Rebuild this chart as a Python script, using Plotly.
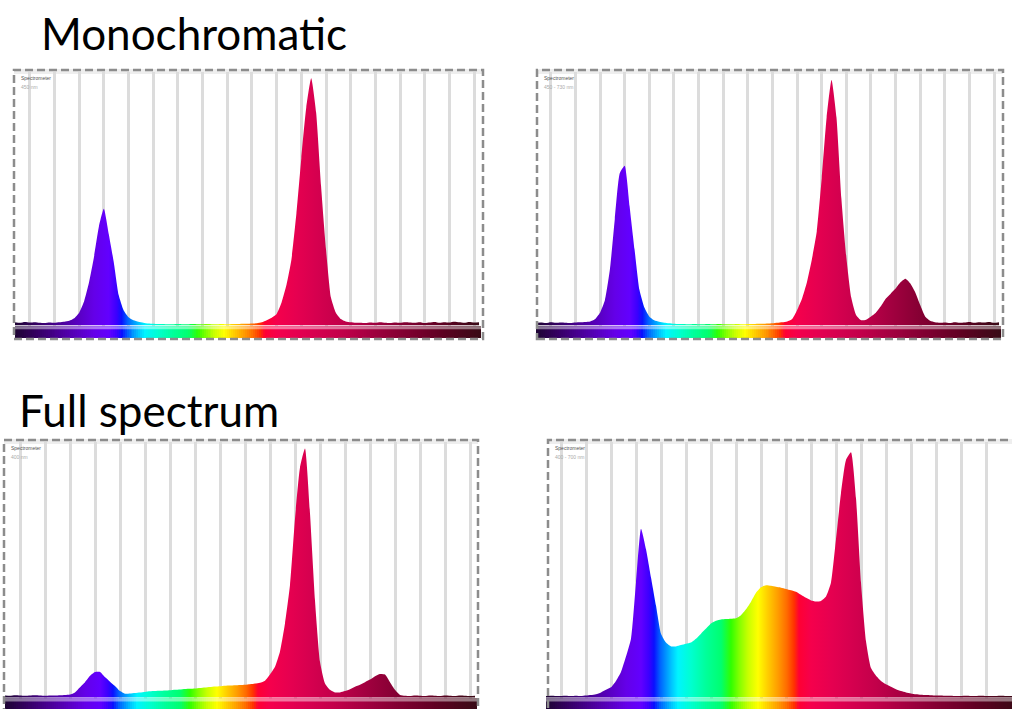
import plotly.graph_objects as go

# ---------------- data ----------------
wavelengths = list(range(360, 835, 5))  # nm

mono_a = [
    0.012, 0.010, 0.013, 0.011, 0.012, 0.010, 0.009, 0.011, 0.010, 0.012,
    0.014, 0.018, 0.028, 0.050, 0.095, 0.170, 0.270, 0.390, 0.460, 0.360,
    0.250, 0.120, 0.060, 0.032, 0.020, 0.014, 0.010, 0.007, 0.006, 0.005,
    0.005, 0.004, 0.004, 0.005, 0.004, 0.004, 0.005, 0.004, 0.004, 0.005,
    0.004, 0.004, 0.005, 0.004, 0.005, 0.005, 0.006, 0.006, 0.007, 0.008,
    0.012, 0.020, 0.030, 0.045, 0.090, 0.160, 0.260, 0.440, 0.660, 0.860,
    0.975, 0.840, 0.550, 0.300, 0.110, 0.050, 0.025, 0.015, 0.012, 0.010,
    0.010, 0.009, 0.011, 0.010, 0.012, 0.010, 0.009, 0.011, 0.010, 0.012,
    0.011, 0.010, 0.012, 0.009, 0.011, 0.013, 0.010, 0.012, 0.011, 0.014,
    0.012, 0.010, 0.013, 0.011, 0.012,
]

mono_b = [
    0.010, 0.011, 0.009, 0.012, 0.010, 0.011, 0.010, 0.009, 0.011, 0.012,
    0.013, 0.015, 0.025, 0.050, 0.100, 0.220, 0.420, 0.600, 0.630, 0.470,
    0.300, 0.140, 0.070, 0.035, 0.020, 0.014, 0.010, 0.008, 0.006, 0.005,
    0.005, 0.004, 0.005, 0.004, 0.004, 0.005, 0.004, 0.005, 0.004, 0.004,
    0.004, 0.005, 0.004, 0.005, 0.005, 0.006, 0.006, 0.007, 0.008, 0.010,
    0.012, 0.015, 0.025, 0.060, 0.105, 0.170, 0.260, 0.370, 0.580, 0.820,
    0.968, 0.820, 0.500, 0.270, 0.110, 0.040, 0.020, 0.022, 0.035, 0.050,
    0.075, 0.105, 0.125, 0.145, 0.170, 0.184, 0.165, 0.130, 0.080, 0.035,
    0.018, 0.012, 0.010, 0.011, 0.009, 0.012, 0.010, 0.011, 0.013, 0.010,
    0.012, 0.011, 0.013, 0.010, 0.012,
]

full_a = [
    0.008, 0.007, 0.009, 0.008, 0.007, 0.008, 0.009, 0.008, 0.007, 0.008,
    0.008, 0.009, 0.010, 0.012, 0.020, 0.040, 0.060, 0.085, 0.100, 0.100,
    0.080, 0.062, 0.045, 0.025, 0.015, 0.016, 0.018, 0.020, 0.022, 0.024,
    0.025, 0.026, 0.027, 0.028, 0.030, 0.031, 0.033, 0.034, 0.035, 0.037,
    0.039, 0.041, 0.043, 0.044, 0.046, 0.047, 0.048, 0.049, 0.050, 0.052,
    0.055, 0.058, 0.066, 0.090, 0.120, 0.180, 0.290, 0.440, 0.700, 0.900,
    0.975, 0.720, 0.380, 0.140, 0.055, 0.030, 0.020, 0.020, 0.025, 0.032,
    0.042, 0.050, 0.060, 0.070, 0.083, 0.092, 0.090, 0.060, 0.030, 0.010,
    0.007, 0.006, 0.008, 0.007, 0.006, 0.008, 0.007, 0.006, 0.008, 0.007,
    0.006, 0.008, 0.007, 0.006, 0.007,
]

full_b = [
    0.006, 0.007, 0.006, 0.006, 0.007, 0.006, 0.007, 0.006, 0.008, 0.010,
    0.013, 0.020, 0.030, 0.040, 0.065, 0.100, 0.160, 0.230, 0.450, 0.660,
    0.580, 0.470, 0.360, 0.250, 0.215, 0.200, 0.200, 0.205, 0.210, 0.215,
    0.230, 0.250, 0.270, 0.290, 0.300, 0.305, 0.307, 0.308, 0.310, 0.322,
    0.345, 0.375, 0.410, 0.432, 0.439, 0.437, 0.433, 0.430, 0.425, 0.420,
    0.414, 0.402, 0.390, 0.380, 0.376, 0.378, 0.395, 0.450, 0.620, 0.800,
    0.930, 0.960, 0.780, 0.450, 0.220, 0.115, 0.085, 0.065, 0.052, 0.042,
    0.032, 0.025, 0.020, 0.016, 0.013, 0.011, 0.010, 0.009, 0.008, 0.008,
    0.007, 0.007, 0.006, 0.006, 0.007, 0.006, 0.006, 0.007, 0.006, 0.006,
    0.006, 0.007, 0.006, 0.006, 0.006,
]

section_titles = ["Monochromatic", "Full spectrum"]
panel_labels = ["Spectrometer", "Spectrometer", "Spectrometer", "Spectrometer"]
panel_ranges = ["450 nm", "450 - 730 nm", "400 nm", "400 - 700 nm"]

# wavelength -> colour map of the spectrum
spectrum_nm = [360, 380, 400, 420, 440, 455, 463, 468, 474, 480, 486, 492,
               505, 520, 535, 545, 553, 562, 572, 582, 592, 601, 608, 613,
               625, 645, 665, 690, 720, 750, 790, 830]
spectrum_colors = ["#1e0433", "#33005e", "#45008a", "#5600b8", "#6400e8", "#6200ff",
                   "#3a00ff", "#0a10ff", "#0060ff", "#0095ff", "#00c8ff", "#00f4ff",
                   "#00ffd0", "#00ff9a", "#00ff70", "#30ff00", "#80ff00", "#c8ff00",
                   "#ffff00", "#ffcc00", "#ff9c00", "#ff6a00", "#ff3300", "#ff0033",
                   "#f5004c", "#e60050", "#d6004f", "#c2004a", "#a30040", "#850033",
                   "#600022", "#3a0a16"]

# ---------------- layout helpers ----------------
W, H = 1012, 709
NM0, NM1 = spectrum_nm[0], spectrum_nm[-1]
cs = [[(nm - NM0) / (NM1 - NM0), c] for nm, c in zip(spectrum_nm, spectrum_colors)]

strip_x = list(range(360, 834, 2))

panels = [
    dict(vals=mono_a, px=(15, 481), py=(72, 338), xr=(360, 832), yr=(-0.05, 1.0),
         border=(14, 483, 70, 339)),
    dict(vals=mono_b, px=(536, 1001), py=(72, 338), xr=(360, 832), yr=(-0.05, 1.0),
         border=(537, 1003, 70, 339)),
    dict(vals=full_a, px=(5, 477), py=(442, 709), xr=(360, 832), yr=(-0.045, 1.0),
         border=(4, 478, 440, 712)),
    dict(vals=full_b, px=(546, 1012), py=(442, 709), xr=(360, 826), yr=(-0.045, 1.0),
         border=(548, 1020, 440, 712)),
]


def fx(p):
    return p / W


def fy(p):
    return 1 - p / H


fig = go.Figure()
layout = dict(
    width=W, height=H, margin=dict(l=0, r=0, t=0, b=0),
    paper_bgcolor="white", plot_bgcolor="white", showlegend=False,
)
shapes = []
annotations = []

for i, p in enumerate(panels, start=1):
    sfx = "" if i == 1 else str(i)
    xa, ya = "x" + sfx, "y" + sfx
    layout["xaxis" + sfx] = dict(
        domain=[fx(p["px"][0]), fx(p["px"][1])], range=list(p["xr"]), anchor=ya,
        showgrid=True, gridcolor="#dcdcdc", gridwidth=2.5, tick0=375, dtick=25,
        showticklabels=False, zeroline=False, showline=False, ticks="", fixedrange=True,
    )
    layout["yaxis" + sfx] = dict(
        domain=[fy(p["py"][1]), fy(p["py"][0])], range=list(p["yr"]), anchor=xa,
        showgrid=False, showticklabels=False, zeroline=False, showline=False, ticks="",
        fixedrange=True,
    )
    # colour strip under the spectrum
    fig.add_trace(go.Heatmap(
        x=strip_x, y=[-0.048, -0.018], z=[strip_x, strip_x],
        zmin=NM0, zmax=NM1, colorscale=cs, showscale=False,
        xaxis=xa, yaxis=ya, hoverinfo="skip",
    ))
    fig.add_trace(go.Scatter(
        x=[strip_x[0], strip_x[-1]], y=[-0.010, -0.010], mode="lines",
        line=dict(color="rgba(255,255,255,0.45)", width=3),
        xaxis=xa, yaxis=ya, hoverinfo="skip",
    ))
    # spectrum fill
    fig.add_trace(go.Scatter(
        x=wavelengths, y=p["vals"], mode="lines",
        line=dict(width=0, shape="spline", smoothing=0.5),
        fill="tozeroy",
        fillgradient=dict(type="horizontal", colorscale=cs, start=NM0, stop=NM1),
        xaxis=xa, yaxis=ya, hoverinfo="skip",
    ))
    bx0, bx1, by0, by1 = p["border"]
    # light band at top of panel
    shapes.append(dict(type="rect", xref="paper", yref="paper",
                       x0=fx(bx0), x1=fx(bx1), y0=fy(by0 + 4), y1=fy(by0 - 1),
                       fillcolor="#eeeeee", line=dict(width=0), layer="below"))
    # dashed border
    shapes.append(dict(type="rect", xref="paper", yref="paper",
                       x0=fx(bx0), x1=fx(bx1), y0=fy(by1), y1=fy(by0),
                       line=dict(color="#8c8c8c", width=2.5, dash="8px,4px"),
                       fillcolor="rgba(0,0,0,0)", layer="above"))
    annotations.append(dict(xref="paper", yref="paper", x=fx(bx0 + 5), y=fy(by0 + 3),
                            xanchor="left", yanchor="top", showarrow=False,
                            text=panel_labels[i - 1],
                            font=dict(family="Liberation Sans", size=5, color="#555555")))
    annotations.append(dict(xref="paper", yref="paper", x=fx(bx0 + 5), y=fy(by0 + 12),
                            xanchor="left", yanchor="top", showarrow=False,
                            text=panel_ranges[i - 1],
                            font=dict(family="Liberation Sans", size=5, color="#aaaaaa")))

annotations.append(dict(xref="paper", yref="paper", x=fx(39), y=fy(5),
                        xanchor="left", yanchor="top", showarrow=False,
                        text=section_titles[0],
                        font=dict(family="Lato", size=44, color="black")))
annotations.append(dict(xref="paper", yref="paper", x=fx(17), y=fy(382),
                        xanchor="left", yanchor="top", showarrow=False,
                        text=section_titles[1],
                        font=dict(family="Lato", size=44, color="black")))

layout["shapes"] = shapes
layout["annotations"] = annotations
fig.update_layout(**layout)
fig.write_html(
    "out.html",
    config={"displayModeBar": False},
    post_script="document.body.style.margin='0';document.body.style.overflow='hidden';",
)
